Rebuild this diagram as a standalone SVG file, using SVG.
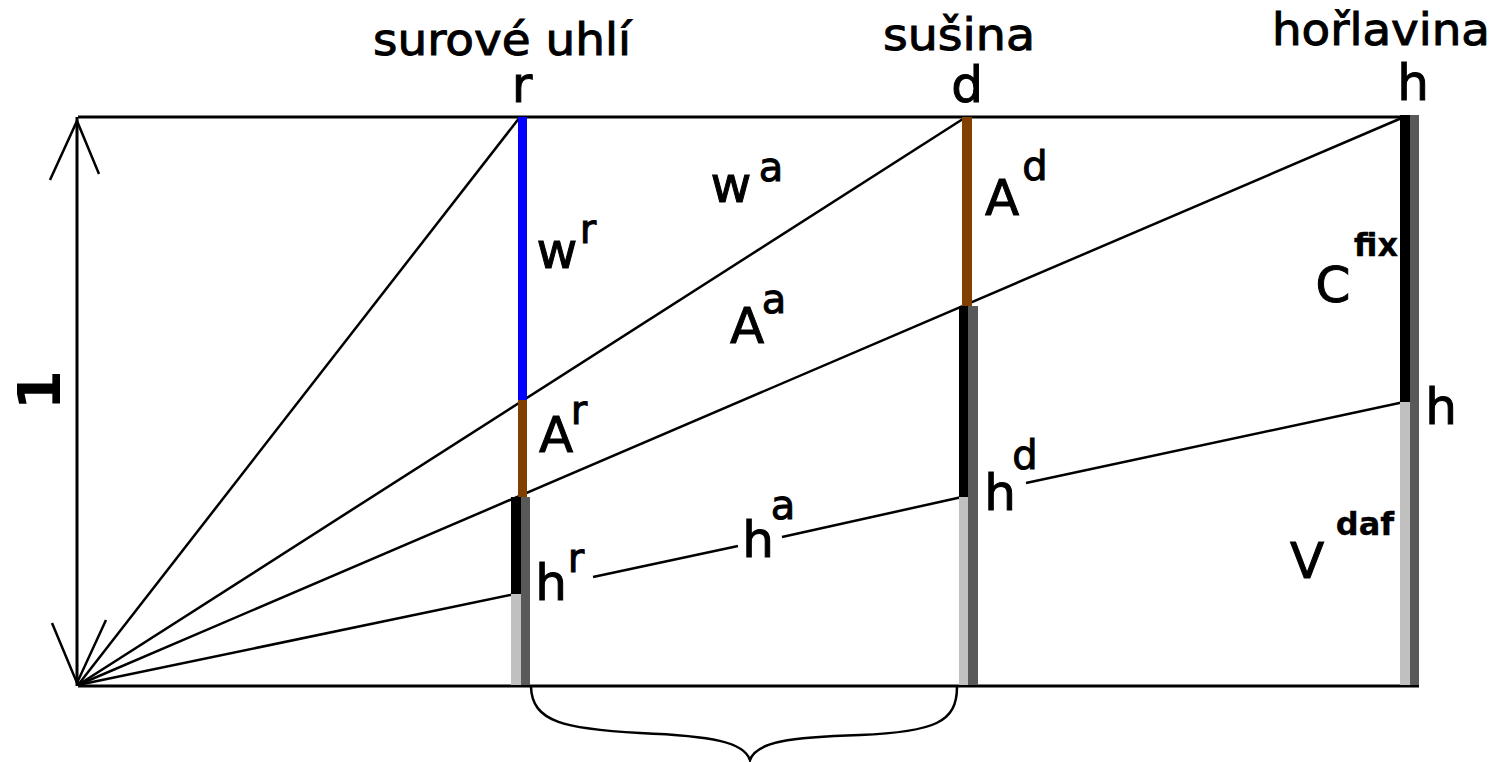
<svg xmlns="http://www.w3.org/2000/svg" width="1496" height="762" viewBox="0 0 1496 762">
<style>
.ln{stroke:#000;stroke-width:2.5;fill:none;stroke-linecap:butt}
.bd{stroke:#000;stroke-width:3;fill:none}
.t{font-family:"DejaVu Sans","Liberation Sans",sans-serif;fill:#000;stroke:#000;stroke-width:1}
.ttl{font-size:45px}
.big{font-size:50px}
.sup{font-size:40px}
.sb{font-size:32px;font-weight:bold;stroke-width:0.3}
</style>
<rect width="1496" height="762" fill="#fff"/>
<g id="connectors">
  <line class="bd" x1="78" y1="117" x2="1402" y2="117"/>
  <line class="bd" x1="78" y1="686" x2="1419" y2="686"/>
  <line class="bd" x1="77" y1="117" x2="77" y2="686"/>
  <polyline class="ln" points="50,180 77,121 99,174"/>
  <polyline class="ln" points="52,623 77,683 106,620"/>
  <line class="ln" x1="78" y1="685" x2="520" y2="117"/>
  <line class="ln" x1="78" y1="685" x2="966" y2="117"/>
  <line class="ln" x1="78" y1="685" x2="1404" y2="117"/>
  <line class="ln" x1="78" y1="685" x2="515" y2="594"/>
  <line class="ln" x1="593" y1="577" x2="738" y2="546"/>
  <line class="ln" x1="782" y1="537" x2="962" y2="497"/>
  <line class="ln" x1="1026" y1="483" x2="1404" y2="402"/>
  <path class="ln" d="M531,687 C532,722 565,729 640,733 C712,736 744,742 750,760 C756,742 790,737 860,735 C935,732 957,722 957,687"/>
</g>
<g id="col-r">
  <rect x="518" y="117" width="9" height="283" fill="#0000ff"/>
  <rect x="518" y="400" width="9" height="97" fill="#804000"/>
  <rect x="511" y="497" width="10" height="97" fill="#000"/>
  <rect x="511" y="594" width="10" height="91" fill="#c0c0c0"/>
  <rect x="521" y="497" width="9" height="188" fill="#595959"/>
</g>
<g id="col-d">
  <rect x="962" y="117" width="10" height="189" fill="#804000"/>
  <rect x="959" y="306" width="9" height="191" fill="#000"/>
  <rect x="959" y="497" width="9" height="188" fill="#c0c0c0"/>
  <rect x="968" y="306" width="10" height="379" fill="#595959"/>
</g>
<g id="col-h">
  <rect x="1400" y="115" width="10" height="287" fill="#000"/>
  <rect x="1400" y="402" width="10" height="283" fill="#c0c0c0"/>
  <rect x="1410" y="115" width="9" height="570" fill="#595959"/>
</g>
<g id="headers" class="t" text-anchor="middle">
  <text class="ttl" x="502" y="55" textLength="258" lengthAdjust="spacingAndGlyphs">surové uhlí</text>
  <text class="ttl" x="959" y="50" textLength="152" lengthAdjust="spacingAndGlyphs">sušina</text>
  <text class="ttl" x="1381" y="45" textLength="218" lengthAdjust="spacingAndGlyphs">hořlavina</text>
  <text class="big" x="522" y="102">r</text>
  <text class="big" x="967" y="102">d</text>
  <text class="big" x="1413" y="100">h</text>
</g>
<g id="label-1" class="t">
  <text transform="translate(60,390) rotate(-90)" text-anchor="middle" font-size="58" font-weight="bold" stroke-width="0">1</text>
</g>
<g id="labels" class="t" text-anchor="middle">
  <text class="big" x="557" y="268">w</text><text class="sup" x="588" y="243">r</text>
  <text class="big" x="731" y="202">w</text><text class="sup" x="771" y="181">a</text>
  <text class="big" x="747" y="343">A</text><text class="sup" x="774" y="313">a</text>
  <text class="big" x="556" y="452">A</text><text class="sup" x="579" y="424">r</text>
  <text class="big" x="551" y="600">h</text><text class="sup" x="576" y="572">r</text>
  <text class="big" x="1000" y="510">h</text><text class="sup" x="1025" y="469">d</text>
  <text class="big" x="758" y="557">h</text><text class="sup" x="783" y="519">a</text>
  <text class="big" x="1002" y="215">A</text><text class="sup" x="1035" y="180">d</text>
  <text class="big" x="1333" y="302">C</text><text class="sb" x="1376" y="256">fix</text>
  <text class="big" x="1441" y="424">h</text>
  <text class="big" x="1307" y="578">V</text><text class="sb" x="1365" y="535">daf</text>
</g>
</svg>
